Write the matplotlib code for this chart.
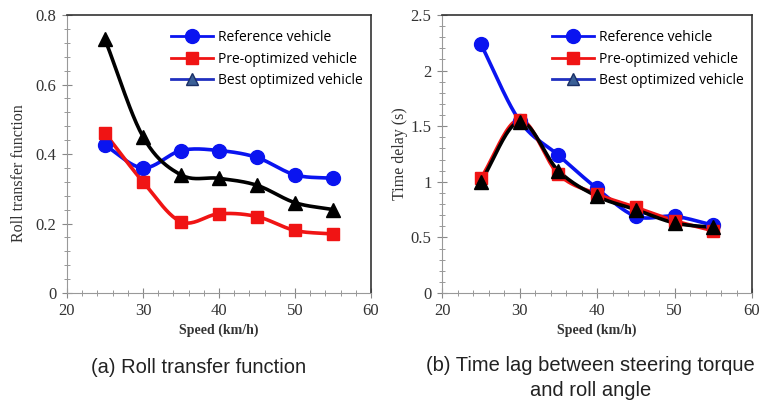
import numpy as np
import matplotlib
matplotlib.use('Agg')
import matplotlib.pyplot as plt
from matplotlib.lines import Line2D
from matplotlib.ticker import MultipleLocator

speed = [25, 30, 35, 40, 45, 50, 55]

# (a) roll transfer function
roll_reference = [0.425, 0.36, 0.41, 0.41, 0.39, 0.34, 0.33]
roll_pre = [0.46, 0.32, 0.205, 0.228, 0.22, 0.18, 0.17]
roll_best = [0.73, 0.45, 0.34, 0.33, 0.31, 0.26, 0.24]

# (b) time lag between steering torque and roll angle
lag_reference = [2.24, 1.55, 1.24, 0.94, 0.69, 0.69, 0.61]
lag_pre = [1.03, 1.56, 1.07, 0.89, 0.77, 0.65, 0.56]
lag_best = [1.0, 1.54, 1.1, 0.87, 0.75, 0.63, 0.59]

labels = ['Reference vehicle', 'Pre-optimized vehicle', 'Best optimized vehicle']
captions = ['(a) Roll transfer function',
            '(b) Time lag between steering torque\nand roll angle']

BLUE = '#0a14f0'
RED = '#f01414'
SERIF = 'Liberation Serif'
SANS = 'Liberation Sans'


def smooth(x, y, steps=24):
    # catmull-rom curve through the points, like excel's smoothed lines
    x = np.asarray(x, float)
    y = np.asarray(y, float)
    px = np.concatenate([[2 * x[0] - x[1]], x, [2 * x[-1] - x[-2]]])
    py = np.concatenate([[2 * y[0] - y[1]], y, [2 * y[-1] - y[-2]]])
    t = np.linspace(0, 1, steps)
    xs, ys = [], []
    for i in range(1, len(px) - 2):
        for p, out in ((px, xs), (py, ys)):
            p0, p1, p2, p3 = p[i - 1], p[i], p[i + 1], p[i + 2]
            out.extend(0.5 * (2 * p1 + (-p0 + p2) * t
                              + (2 * p0 - 5 * p1 + 4 * p2 - p3) * t ** 2
                              + (-p0 + 3 * p1 - 3 * p2 + p3) * t ** 3))
    return xs, ys


def draw_panel(ax, series, ymax, ymajor, ylabel):
    styles = [(BLUE, 'o', 10), (RED, 's', 9), ('black', '^', 10)]
    for ys, (color, marker, ms) in zip(series, styles):
        sx, sy = smooth(speed, ys)
        ax.plot(sx, sy, color=color, lw=2.6, solid_capstyle='round', zorder=2)
        ax.plot(speed, ys, marker, color=color, ms=ms, zorder=3)

    ax.set_xlim(20, 60)
    ax.set_ylim(0, ymax)
    ax.xaxis.set_major_locator(MultipleLocator(10))
    ax.xaxis.set_minor_locator(MultipleLocator(2))
    ax.yaxis.set_major_locator(MultipleLocator(ymajor))
    ax.yaxis.set_minor_locator(MultipleLocator(ymajor / 5))
    ax.yaxis.set_major_formatter(plt.FuncFormatter(lambda v, p: '%g' % round(v, 3)))
    ax.tick_params(which='both', direction='inout', color='#888888', top=False, right=False)
    ax.tick_params(which='major', length=7, labelsize=12, pad=4)
    ax.tick_params(which='minor', length=4)
    for lab in ax.get_xticklabels() + ax.get_yticklabels():
        lab.set_fontfamily(SERIF)
        lab.set_color('#333333')
    for side in ['left', 'bottom']:
        ax.spines[side].set_color('#999999')
    for side in ['top', 'right']:
        ax.spines[side].set_color('#333333')
        ax.spines[side].set_linewidth(1.2)

    ax.set_xlabel('Speed (km/h)', family=SERIF, fontsize=10, fontweight='bold',
                  color='#333333', labelpad=3)
    ax.set_ylabel(ylabel, family=SERIF, fontsize=11.5, color='#333333', labelpad=2)

    handles = [
        Line2D([], [], color=BLUE, lw=2, marker='o', ms=10),
        Line2D([], [], color=RED, lw=2, marker='s', ms=8),
        Line2D([], [], color='#2030c0', lw=2, marker='^', ms=9,
               markerfacecolor='#3a5f96', markeredgecolor='#1a2f66'),
    ]
    ax.legend(handles, labels, loc='upper right', frameon=False,
              prop={'family': 'Open Sans', 'size': 10}, handlelength=3.0,
              handletextpad=0.4, labelspacing=0.45, borderaxespad=0.4,
              bbox_to_anchor=(1.01, 0.985))


fig = plt.figure(figsize=(7.69, 4.12), dpi=100)
ax1 = fig.add_axes([0.0871, 0.2888, 0.3953, 0.6748])
ax2 = fig.add_axes([0.5748, 0.2888, 0.4031, 0.6748])

draw_panel(ax1, [roll_reference, roll_pre, roll_best], 0.8, 0.2, 'Roll transfer function')
draw_panel(ax2, [lag_reference, lag_pre, lag_best], 2.5, 0.5, 'Time delay (s)')
ax1.yaxis.set_label_coords(-0.13, 0.43)

fig.text(0.258, 0.107, captions[0], family=SANS, fontsize=14.5, color='#222222',
         ha='center', va='center')
fig.text(0.768, 0.135, captions[1], family=SANS, fontsize=14.5, color='#222222',
         ha='center', va='top', linespacing=1.35)

fig.savefig('out.png', dpi=100)
